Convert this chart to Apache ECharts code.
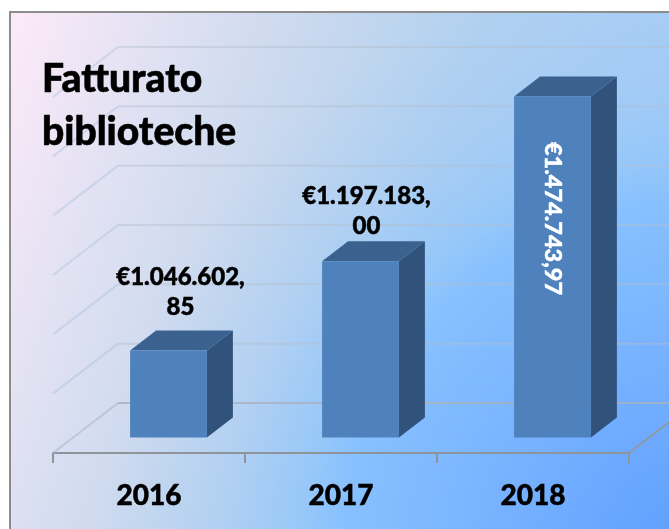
<!DOCTYPE html>
<html><head><meta charset="utf-8">
<style>html,body{margin:0;padding:0;background:#fff}#c{width:669px;height:529px}</style>
<script src="https://cdn.jsdelivr.net/npm/echarts@6/dist/echarts.min.js"></script>
</head><body><div id="c"></div>
<script>
const categories = ['2016', '2017', '2018'];
const revenue = [1046602.85, 1197183.00, 1474743.97];
const valueLabels = ['€1.046.602,\n85', '€1.197.183,\n00', '€1.474.743,97'];
const gridValues = [900000, 1000000, 1100000, 1200000, 1300000, 1400000, 1500000];
const titleText = 'Fatturato\nbiblioteche';

const FONT = 'Lato, Carlito, "Open Sans", sans-serif';
const WALL = [65, -50], BAR_FRONT = [19.5, -15.5], BAR_DEPTH = [26, -20];
const LABEL_NUDGE = [[12, -58], [6, -50]];

function renderGrid(params, api) {
  const cs = params.coordSys, v = api.value(0);
  const y = api.coord([0, v])[1];
  const x0 = cs.x, x1 = cs.x + WALL[0], x2 = cs.x + cs.width + WALL[0], yb = y + WALL[1];
  const base = v === gridValues[0];
  const children = [
    {type: 'line', shape: {x1: x0, y1: y, x2: x1, y2: yb},
     style: {stroke: base ? 'rgba(175,182,195,0.6)' : 'rgba(160,190,220,0.4)', lineWidth: 2, fill: null}},
    {type: 'line', shape: {x1: x1, y1: yb, x2: x2, y2: yb},
     style: {stroke: base ? 'rgba(170,176,188,0.8)' : 'rgba(180,190,205,0.45)', lineWidth: 2, fill: null}}
  ];
  if (base) {
    children.push({type: 'line', shape: {x1: cs.x + cs.width, y1: y, x2: x2, y2: yb},
      style: {stroke: '#8f98a6', lineWidth: 2, fill: null}});
  }
  return {type: 'group', children};
}

function renderBar(params, api) {
  const i = api.value(0), val = api.value(1);
  const c = api.coord([i, val]), b = api.coord([i, gridValues[0]]);
  const w = api.size([1, 0])[0] * 0.4;
  const L = c[0] + BAR_FRONT[0] - w / 2, R = L + w;
  const T = c[1] + BAR_FRONT[1], B = b[1] + BAR_FRONT[1];
  const dx = BAR_DEPTH[0], dy = BAR_DEPTH[1];
  const children = [
    {type: 'polygon', shape: {points: [[R, T], [R + dx, T + dy], [R + dx, B + dy], [R, B]]}, style: {fill: '#31527a'}},
    {type: 'polygon', shape: {points: [[L, T], [L + dx, T + dy], [R + dx, T + dy], [R, T]]}, style: {fill: '#3b628f'}},
    {type: 'rect', shape: {x: L, y: T, width: w, height: B - T}, style: {fill: '#4f81bd'}}
  ];
  const text = valueLabels[params.dataIndex];
  if (params.dataIndex < 2) {
    const n = LABEL_NUDGE[params.dataIndex];
    children.push({type: 'text', x: (L + R) / 2 + n[0], y: T + n[1], style: {
      text, align: 'center', verticalAlign: 'middle', fill: '#000', stroke: '#000', lineWidth: 0.5,
      font: '900 24px ' + FONT, lineHeight: 30}});
  } else {
    children.push({type: 'text', x: (L + R) / 2, y: T + 122, rotation: -Math.PI / 2, style: {
      text, align: 'center', verticalAlign: 'middle', fill: '#fff', stroke: '#fff', lineWidth: 0.4,
      font: '900 23.5px ' + FONT}});
  }
  return {type: 'group', children};
}

const chart = echarts.init(document.getElementById('c'), null, {renderer: 'canvas'});
chart.setOption({
  animation: false,
  backgroundColor: '#fff',
  graphic: [{
    type: 'rect', z: -10, silent: true,
    shape: {x: 10, y: 12, width: 670, height: 530},
    style: {
      stroke: '#8c8c8c', lineWidth: 2,
      fill: new echarts.graphic.LinearGradient(10, 12, 758, 281, [
        {offset: 0, color: '#fdeaf8'},
        {offset: 0.21, color: '#dde0f2'},
        {offset: 0.37, color: '#c8d8ee'},
        {offset: 0.57, color: '#b0d0f0'},
        {offset: 0.77, color: '#a8cdf5'},
        {offset: 1, color: '#a0c8f8'}
      ], true)
    }
  }, {
    type: 'rect', z: -9, silent: true,
    shape: {x: 11, y: 13, width: 658, height: 516},
    style: {
      fill: new echarts.graphic.RadialGradient(700, 560, 600, [
        {offset: 0.083, color: 'rgba(98,162,255,1)'},
        {offset: 0.35, color: 'rgba(120,178,255,1)'},
        {offset: 0.6, color: 'rgba(133,192,255,0.95)'},
        {offset: 0.66, color: 'rgba(143,197,251,0.8)'},
        {offset: 0.8, color: 'rgba(155,200,248,0.35)'},
        {offset: 1, color: 'rgba(168,204,244,0)'}
      ], true)
    }
  }],
  title: {
    text: titleText, left: 37, top: 48,
    textStyle: {fontFamily: FONT, fontWeight: 900, fontSize: 39, lineHeight: 53, color: '#000',
      textBorderColor: '#000', textBorderWidth: 0.6}
  },
  grid: {left: 53, width: 576, top: 97, height: 356, containLabel: false},
  xAxis: {
    type: 'category', data: categories, boundaryGap: true,
    axisLine: {lineStyle: {color: '#8f949b', width: 2}},
    axisTick: {show: true, length: 10, lineStyle: {color: '#8f949b', width: 2}},
    axisLabel: {color: '#000', fontFamily: FONT, fontWeight: 900, fontSize: 28, margin: 29,
      textBorderColor: '#000', textBorderWidth: 0.5}
  },
  yAxis: {
    type: 'value', min: gridValues[0], max: gridValues[gridValues.length - 1], interval: 100000,
    show: false, splitLine: {show: false}
  },
  series: [
    {type: 'custom', coordinateSystem: 'cartesian2d', clip: false, silent: true, z: 1,
     encode: {y: 0}, data: gridValues.map(v => [v]), renderItem: renderGrid},
    {type: 'custom', coordinateSystem: 'cartesian2d', clip: false, silent: true, z: 2,
     encode: {x: 0, y: 1}, data: revenue.map((v, i) => [i, v]), renderItem: renderBar}
  ]
});
</script></body></html>
